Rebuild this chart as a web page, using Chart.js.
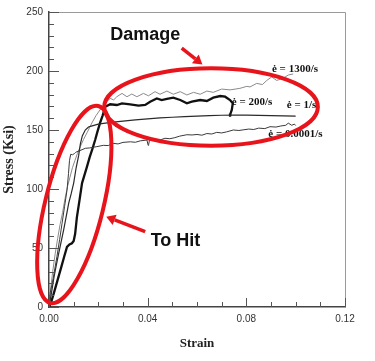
<!DOCTYPE html>
<html>
<head>
<meta charset="utf-8">
<script src="https://cdn.jsdelivr.net/npm/chart.js@4.4.1/dist/chart.umd.min.js"></script>
<style>
html,body{margin:0;padding:0;background:#fff;}
#wrap{width:375px;height:361px;position:relative;}
</style>
</head>
<body>
<div id="wrap"><canvas id="c" width="375" height="361"></canvas></div>
<script>
// ---- data ----
const strain1300 = [0,0.0008,0.0015,0.0025,0.0035,0.0045,0.0055,0.0065,0.0075,0.0085,0.0095,0.0105,0.0115,0.0127,0.014,0.0155,0.0174,0.019,0.021,0.023,0.0248,0.0262,0.0275,0.0296,0.0316,0.0336,0.0356,0.0383,0.0403,0.043,0.045,0.0478,0.0504,0.0532,0.0559,0.0586,0.0613,0.064,0.0666,0.070,0.0734,0.0774,0.0802,0.0815,0.0842,0.0865,0.0883,0.0903,0.0923,0.095,0.097,0.099];
const stress1300 = [0,18,30,45,58,70,80,92,102,110,118,124,130,136,142,148,156,162,168,173,176.8,175.5,178.2,181,178.2,180.5,178.2,181,179,182.5,180.3,183,180.3,182.5,179.7,181.9,180.3,183,181.9,184.7,184,185.3,187,186.5,189.5,188.5,192,195,192,194,196.6,197.5];

const strain200 = [0,0.001,0.002,0.0035,0.005,0.0062,0.0073,0.0083,0.0093,0.0100,0.0106,0.0113,0.0124,0.0134,0.0144,0.0154,0.0165,0.0176,0.0187,0.0197,0.0207,0.0217,0.0228,0.0248,0.0275,0.0296,0.0329,0.0363,0.039,0.041,0.0437,0.0457,0.0478,0.0504,0.0532,0.0559,0.0579,0.0613,0.064,0.0666,0.0694,0.0714,0.0734,0.0745,0.0741,0.0736,0.0734];
const stress200 = [0,5,12,23,34,43,51,53,54,56,62,76,91,105,112,119,127,134,141.5,149,156,162,169.7,171.8,171.2,172.6,171.8,170.6,171.2,174,176.8,175.4,176.3,177.4,175.4,172.6,174,175.4,174.6,177.4,178.8,178.2,175.4,172.6,167,164,161.3];

const strain1 = [0,0.001,0.002,0.003,0.004,0.005,0.006,0.007,0.008,0.009,0.010,0.011,0.012,0.0127,0.0135,0.0147,0.016,0.0175,0.02,0.025,0.03,0.035,0.04,0.045,0.05,0.055,0.06,0.065,0.07,0.075,0.08,0.085,0.09,0.095,0.1];
const stress1 = [0,12,25,36,46,56,66,77,88,96,105,118,128,138,145,150,152.5,153.5,155,156.5,157.5,158.5,159.5,160.2,160.8,161.3,161.8,162.2,162.5,162.6,162.6,162.4,162.2,162,161.8];

const strain0001 = [0,0.0005,0.0015,0.0032,0.0043,0.0053,0.0063,0.0073,0.0079,0.0083,0.0088,0.0095,0.0103,0.0108,0.0113,0.0125,0.0147,0.0165,0.0194,0.022,0.024,0.026,0.028,0.030,0.033,0.035,0.037,0.0397,0.0402,0.0404,0.0407,0.043,0.045,0.047,0.049,0.051,0.053,0.0559,0.058,0.060,0.062,0.064,0.066,0.068,0.070,0.072,0.0747,0.077,0.079,0.081,0.083,0.085,0.0875,0.0896,0.092,0.094,0.096,0.097,0.0984,0.0995,0.100];
const stress0001 = [0,12,22,42.6,57,71,85,99,113,124,129.5,129,130,131,131.6,132.5,134.5,134.8,135.9,137,136.8,138.7,138.2,139.5,140,139.6,140.8,141.5,137,137.5,141.2,142,141.5,143,142.6,143.5,144.8,146,145.8,146.2,145.6,147,146.6,148,147.5,148.4,150,149.6,150.2,150.8,150.4,151.6,151.2,152.8,152.5,153.4,154,155.8,154,155,153.8];

const xTickLabels = ['0.00','0.04','0.08','0.12'];
const yTickLabels = ['0','50','100','150','200','250'];
const seriesLabels = ['ė = 1300/s','ė = 200/s','ė = 1/s','ė = 0.0001/s'];
const seriesLabelPos = [[0.0904,201.7],[0.0741,174],[0.0964,171.2],[0.0889,146.6]];

// annotation geometry in data units
const damageEllipse = {cx:0.0657, cy:169.5, rx:0.0433, ry:32.8};
const hitEllipse = {top:[0.0200,170.3], bottom:[0.0005,3.4], halfWidth:0.0118};
const damageText = {text:'Damage', x:0.039, y:230.5};
const hitText = {text:'To Hit', x:0.0513, y:56.2};
const damageArrow = {from:[0.0538,219.3], to:[0.0622,205.5]};
const hitArrow = {from:[0.0390,63.8], to:[0.0232,76.5]};

const pts = (xs, ys) => xs.map((x,i)=>({x:x, y:ys[i]}));

const RED = '#e8141c';

const annot = {
  id:'annot',
  afterDatasetsDraw(chart){
    const ctx = chart.ctx, xs = chart.scales.x, ys = chart.scales.y, a = chart.chartArea;
    const X = v=>xs.getPixelForValue(v), Y = v=>ys.getPixelForValue(v);
    ctx.save();
    // frame top/right
    ctx.strokeStyle = '#9a9a9a'; ctx.lineWidth = 1;
    ctx.beginPath(); ctx.moveTo(a.left, a.top+0.5); ctx.lineTo(a.right+0.5, a.top+0.5); ctx.lineTo(a.right+0.5, a.bottom); ctx.stroke();
    // inward ticks
    ctx.strokeStyle = '#555'; ctx.lineWidth = 1;
    xs.ticks.forEach(t=>{
      const major = Math.round(t.value*100)%4===0;
      const p = Math.round(X(t.value))+0.5;
      ctx.beginPath(); ctx.moveTo(p, a.bottom); ctx.lineTo(p, a.bottom-(major?9:5)); ctx.stroke();
    });
    ys.ticks.forEach(t=>{
      const major = Math.round(t.value)%50===0;
      const p = Math.round(Y(t.value))+0.5;
      ctx.beginPath(); ctx.moveTo(a.left, p); ctx.lineTo(a.left+(major?10:5), p); ctx.stroke();
    });
    // curve labels
    ctx.fillStyle = '#111';
    ctx.font = 'bold 11px "Liberation Serif", "DejaVu Serif", serif';
    ctx.textAlign = 'left'; ctx.textBaseline = 'middle';
    seriesLabels.forEach((s,i)=>ctx.fillText(s, X(seriesLabelPos[i][0]), Y(seriesLabelPos[i][1])));
    // ellipses
    ctx.strokeStyle = RED; ctx.lineWidth = 4;
    const dcx = X(damageEllipse.cx), dcy = Y(damageEllipse.cy);
    ctx.beginPath();
    ctx.ellipse(dcx, dcy, X(damageEllipse.cx+damageEllipse.rx)-dcx, dcy-Y(damageEllipse.cy+damageEllipse.ry), 0, 0, Math.PI*2);
    ctx.stroke();
    const tx = X(hitEllipse.top[0]), ty = Y(hitEllipse.top[1]);
    const bx = X(hitEllipse.bottom[0]), by = Y(hitEllipse.bottom[1]);
    const hcx = (tx+bx)/2, hcy = (ty+by)/2;
    const semiMajor = Math.hypot(tx-bx, ty-by)/2;
    const rot = Math.atan2(tx-bx, by-ty);
    const semiMinor = X(hitEllipse.halfWidth)-X(0);
    ctx.beginPath();
    ctx.ellipse(hcx, hcy, semiMinor, semiMajor, rot, 0, Math.PI*2);
    ctx.stroke();
    // arrows
    const arrow = (ar)=>{
      const x1 = X(ar.from[0]), y1 = Y(ar.from[1]), x2 = X(ar.to[0]), y2 = Y(ar.to[1]);
      const ang = Math.atan2(y2-y1, x2-x1);
      const hl = 9, hw = 5.5;
      const bxp = x2 - hl*Math.cos(ang), byp = y2 - hl*Math.sin(ang);
      ctx.lineWidth = 3.5; ctx.lineCap = 'butt';
      ctx.beginPath(); ctx.moveTo(x1,y1); ctx.lineTo(bxp,byp); ctx.stroke();
      ctx.fillStyle = RED;
      ctx.beginPath();
      ctx.moveTo(x2,y2);
      ctx.lineTo(bxp + hw*Math.sin(ang), byp - hw*Math.cos(ang));
      ctx.lineTo(bxp - hw*Math.sin(ang), byp + hw*Math.cos(ang));
      ctx.closePath(); ctx.fill();
    };
    arrow(damageArrow); arrow(hitArrow);
    // big labels
    ctx.fillStyle = '#111';
    ctx.font = 'bold 18px "Liberation Sans", Arial, sans-serif';
    ctx.textAlign = 'center'; ctx.textBaseline = 'middle';
    ctx.fillText(damageText.text, X(damageText.x), Y(damageText.y));
    ctx.fillText(hitText.text, X(hitText.x), Y(hitText.y));
    ctx.restore();
  }
};

new Chart(document.getElementById('c'), {
  type:'line',
  data:{
    datasets:[
      {label:seriesLabels[3], data:pts(strain0001,stress0001), borderColor:'#3a3a3a', borderWidth:1},
      {label:seriesLabels[2], data:pts(strain1,stress1), borderColor:'#2a2a2a', borderWidth:1.2},
      {label:seriesLabels[0], data:pts(strain1300,stress1300), borderColor:'#8a8a8a', borderWidth:1},
      {label:seriesLabels[1], data:pts(strain200,stress200), borderColor:'#111', borderWidth:2.3}
    ]
  },
  options:{
    responsive:false,
    devicePixelRatio:1,
    animation:false,
    layout:{padding:{left:1,right:30,top:12,bottom:0}},
    elements:{point:{radius:0}, line:{tension:0, fill:false}},
    plugins:{legend:{display:false}, tooltip:{enabled:false}},
    scales:{
      x:{
        type:'linear', min:0, max:0.12,
        ticks:{stepSize:0.01, autoSkip:false, maxRotation:0, padding:6, color:'#333',
          font:{family:'"Liberation Sans", Arial, sans-serif', size:10},
          callback:(v)=>{const k=Math.round(v*100); return k%4===0 ? xTickLabels[k/4] : '';}},
        grid:{drawOnChartArea:false, drawTicks:false},
        border:{display:true, color:'#444', width:1.5},
        title:{display:true, text:'Strain', color:'#222', padding:{top:0,bottom:10},
          font:{family:'"Liberation Serif", "Times New Roman", serif', size:13, weight:'bold'}},
        afterFit:(s)=>{s.height=54;}
      },
      y:{
        type:'linear', min:0, max:250,
        ticks:{stepSize:10, autoSkip:false, padding:6, color:'#333',
          font:{family:'"Liberation Sans", Arial, sans-serif', size:10},
          callback:(v)=>{const k=Math.round(v); return k%50===0 ? yTickLabels[k/50] : '';}},
        grid:{drawOnChartArea:false, drawTicks:false},
        border:{display:true, color:'#444', width:1.5},
        title:{display:true, text:'Stress (Ksi)', color:'#222', padding:{top:0,bottom:0},
          font:{family:'"Liberation Serif", "Times New Roman", serif', size:14, weight:'bold'}},
        afterFit:(s)=>{s.width=48;}
      }
    }
  },
  plugins:[annot]
});
</script>
</body>
</html>
